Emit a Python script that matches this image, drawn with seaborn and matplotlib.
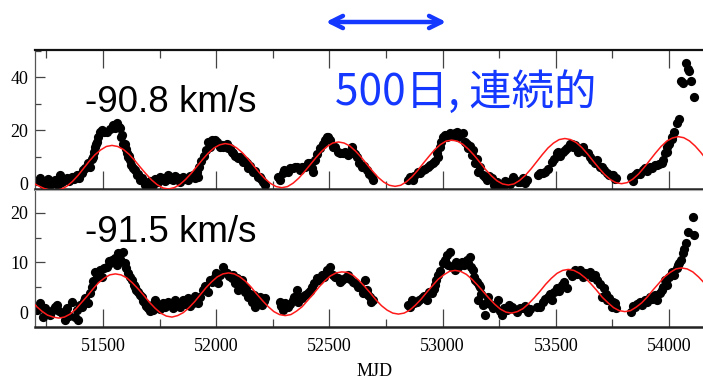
import matplotlib
matplotlib.use("Agg")
import matplotlib.pyplot as plt
import seaborn as sns
import numpy as np
from matplotlib.ticker import MultipleLocator

# ---- data ----
top_mjd = [51205, 51222, 51235, 51244, 51256, 51266, 51278, 51288, 51300, 51310,
           51319, 51330, 51341, 51352, 51363, 51374, 51385, 51396, 51407, 51414,
           51421, 51434, 51443, 51450, 51456, 51462, 51465, 51470, 51474, 51480,
           51487, 51495, 51505, 51518, 51530, 51544, 51553, 51562, 51571, 51575,
           51580, 51584, 51590, 51597, 51602, 51606, 51610, 51615, 51619, 51625,
           51632, 51641, 51650, 51655, 51663, 51672, 51685, 51694, 51699, 51710,
           51721, 51732, 51743, 51754, 51765, 51776, 51787, 51798, 51809, 51820,
           51831, 51842, 51853, 51864, 51875, 51886, 51897, 51906, 51915, 51919,
           51924, 51935, 51945, 51955, 51963, 51972, 51980, 51994, 52003, 52008,
           52016, 52025, 52030, 52047, 52052, 52060, 52068, 52074, 52085, 52096,
           52105, 52118, 52127, 52136, 52140, 52150, 52162, 52172, 52184, 52193,
           52200, 52206, 52215, 52272, 52281, 52294, 52300, 52316, 52325, 52338,
           52350, 52356, 52369, 52378, 52391, 52404, 52413, 52422, 52427, 52436,
           52446, 52458, 52470, 52480, 52489, 52493, 52502, 52515, 52524, 52537,
           52546, 52559, 52570, 52581, 52590, 52599, 52603, 52612, 52621, 52632,
           52643, 52654, 52665, 52676, 52687, 52691, 52846, 52855, 52868, 52875,
           52890, 52899, 52912, 52922, 52934, 52945, 52956, 52966, 52974, 52980,
           52987, 52995, 53001, 53009, 53020, 53031, 53042, 53053, 53062, 53070,
           53076, 53089, 53098, 53107, 53111, 53120, 53129, 53135, 53142, 53150,
           53155, 53164, 53177, 53186, 53195, 53205, 53217, 53228, 53239, 53252,
           53265, 53275, 53287, 53298, 53309, 53320, 53331, 53340, 53353, 53362,
           53371, 53420, 53429, 53442, 53451, 53465, 53482, 53490, 53504, 53508,
           53520, 53530, 53539, 53550, 53561, 53570, 53575, 53585, 53597, 53605,
           53618, 53630, 53640, 53649, 53662, 53672, 53680, 53693, 53702, 53712,
           53724, 53735, 53746, 53751, 53760, 53768, 53834, 53840, 53848, 53857,
           53870, 53883, 53892, 53902, 53914, 53925, 53936, 53945, 53956, 53967,
           53975, 53980, 53989, 53993, 54002, 54011, 54015, 54020, 54037, 54046,
           54055, 54060, 54077, 54082, 54090, 54099, 54112]
top_flux = [0.8, 2.0, -0.2, 0.5, 1.5, -0.6, 0.3, 1.2, -0.5, 3.1,
            0.5, 1.8, 2.0, 0.8, 2.4, 1.5, 3.1, 2.2, 3.9, 5.0,
            5.7, 7.5, 6.1, 9.0, 9.9, 12.0, 13.6, 15.0, 15.5, 17.5,
            19.2, 20.0, 19.5, 19.2, 20.3, 21.8, 20.7, 22.6, 21.1, 20.7,
            17.4, 18.1, 15.0, 15.0, 13.0, 11.3, 9.9, 10.5, 8.7, 7.0,
            5.7, 5.0, 3.1, 3.5, 1.2, 2.0, -0.6, -1.3, -2.0, 1.0,
            -0.6, 1.5, 0.5, 2.5, 2.0, 0.8, 3.1, 1.8, 1.2, 2.8,
            2.0, 0.6, 2.4, 1.5, 1.2, 2.8, 3.1, 2.0, 4.2, 2.4,
            6.2, 8.5, 10.5, 12.5, 15.5, 13.6, 16.5, 16.2, 15.5, 15.0,
            13.6, 14.5, 13.6, 15.0, 13.2, 13.2, 12.0, 11.3, 10.5, 9.5,
            9.9, 8.0, 8.5, 7.6, 5.7, 6.5, 4.2, 4.5, 2.4, 2.4,
            1.5, 0.5, -0.6, 2.4, 1.2, 3.9, 5.0, 4.2, 5.7, 5.7,
            6.0, 6.1, 5.0, 6.1, 6.1, 7.6, 7.6, 5.7, 4.2, 8.7,
            11.0, 13.2, 15.0, 16.2, 17.4, 17.4, 16.2, 13.6, 13.6, 11.7,
            11.3, 11.3, 12.0, 10.6, 11.5, 13.6, 12.0, 11.0, 9.9, 7.5,
            6.1, 6.5, 5.0, 3.5, 2.4, 1.2, 1.2, 2.4, 1.2, 2.8,
            4.2, 3.9, 5.0, 5.5, 6.1, 6.8, 7.6, 8.5, 11.3, 9.9,
            13.6, 15.5, 17.4, 18.1, 17.5, 18.8, 17.8, 18.8, 19.2, 17.5,
            18.1, 18.8, 15.5, 15.0, 13.2, 14.0, 10.6, 12.5, 7.6, 9.0,
            4.2, 6.1, 3.1, 2.5, 1.2, 2.8, 2.0, -0.5, 0.5, -1.3,
            -1.3, 1.0, 0.5, -0.3, 2.4, 1.2, 0.5, 0.5, 2.0, 0.2,
            1.2, 3.1, 3.9, 3.9, 4.2, 5.5, 8.0, 9.0, 11.3, 11.7,
            10.5, 11.7, 12.5, 13.2, 15.0, 15.0, 13.6, 14.5, 11.7, 12.5,
            13.6, 12.0, 11.3, 9.9, 8.7, 7.5, 8.7, 6.1, 6.1, 5.0,
            3.9, 3.0, 3.1, 3.1, 1.5, 2.0, 2.4, 1.0, 3.1, 3.9,
            3.5, 5.0, 5.7, 4.8, 6.1, 5.8, 7.0, 6.9, 7.2, 7.6,
            8.7, 11.3, 11.7, 13.6, 15.0, 16.9, 17.4, 19.2, 22.6, 24.4,
            38.7, 37.9, 45.4, 43.2, 42.4, 38.7, 32.4]

bot_mjd = [51210, 51222, 51235, 51246, 51257, 51268, 51279, 51290, 51297, 51308,
           51319, 51332, 51341, 51352, 51363, 51377, 51385, 51390, 51398, 51407,
           51415, 51421, 51434, 51443, 51452, 51458, 51465, 51472, 51478, 51487,
           51496, 51505, 51518, 51525, 51531, 51542, 51553, 51560, 51566, 51575,
           51588, 51597, 51603, 51610, 51620, 51628, 51635, 51641, 51648, 51655,
           51663, 51672, 51678, 51685, 51692, 51699, 51708, 51716, 51723, 51730,
           51737, 51743, 51754, 51765, 51776, 51787, 51798, 51809, 51820, 51831,
           51842, 51853, 51864, 51875, 51886, 51897, 51906, 51915, 51920, 51928,
           51940, 51950, 51963, 51972, 51980, 51994, 52001, 52008, 52018, 52030,
           52038, 52047, 52058, 52069, 52076, 52083, 52090, 52096, 52105, 52114,
           52120, 52127, 52134, 52140, 52150, 52158, 52165, 52171, 52178, 52184,
           52194, 52202, 52210, 52215, 52281, 52288, 52294, 52305, 52316, 52326,
           52338, 52345, 52356, 52362, 52369, 52380, 52392, 52404, 52413, 52422,
           52433, 52444, 52455, 52466, 52478, 52489, 52496, 52502, 52515, 52524,
           52536, 52545, 52555, 52568, 52581, 52592, 52603, 52614, 52625, 52634,
           52647, 52656, 52665, 52672, 52678, 52685, 52691, 52846, 52855, 52864,
           52875, 52886, 52897, 52908, 52918, 52930, 52940, 52952, 52960, 52965,
           52972, 52978, 52990, 53001, 53010, 53018, 53024, 53031, 53040, 53053,
           53060, 53067, 53075, 53084, 53095, 53107, 53114, 53120, 53127, 53133,
           53140, 53145, 53151, 53155, 53160, 53164, 53170, 53177, 53186, 53192,
           53199, 53210, 53221, 53232, 53243, 53252, 53261, 53272, 53283, 53294,
           53305, 53316, 53327, 53340, 53353, 53364, 53375, 53385, 53418, 53429,
           53442, 53452, 53464, 53474, 53482, 53494, 53504, 53515, 53526, 53537,
           53548, 53561, 53572, 53583, 53594, 53605, 53618, 53630, 53649, 53660,
           53671, 53684, 53695, 53706, 53715, 53722, 53728, 53737, 53746, 53753,
           53760, 53768, 53834, 53841, 53848, 53859, 53870, 53881, 53892, 53903,
           53914, 53925, 53936, 53949, 53958, 53967, 53975, 53980, 53987, 53993,
           54002, 54011, 54020, 54033, 54040, 54046, 54053, 54060, 54068, 54077,
           54082, 54104, 54112]
bot_flux = [0.5, 1.8, -1.0, 0.8, 0.0, -0.5, 0.4, 1.0, 1.4, 0.3,
            -0.2, -1.6, 0.8, -0.8, 2.0, -1.0, 0.4, -1.6, 1.5, 1.0,
            2.2, 2.8, 1.8, 3.8, 5.1, 6.2, 8.1, 7.0, 7.9, 8.5,
            7.1, 8.8, 9.1, 10.2, 9.9, 10.5, 10.9, 9.5, 11.9, 10.8,
            12.1, 9.9, 8.8, 7.9, 7.0, 6.5, 5.5, 5.1, 4.5, 4.0,
            3.5, 3.0, 2.2, 1.8, 1.2, 0.8, 0.2, 1.4, 0.5, 2.4,
            1.2, 1.0, 0.6, 1.8, 1.0, 2.0, 1.4, 0.8, 2.4, 1.8,
            1.0, 2.4, 1.6, 2.8, 1.2, 1.8, 3.2, 2.8, 1.8, 3.0,
            4.5, 5.2, 4.0, 6.5, 6.0, 7.1, 7.8, 5.9, 7.5, 9.1,
            8.0, 7.9, 7.2, 6.9, 7.5, 5.9, 6.8, 4.4, 5.0, 6.5,
            5.2, 4.0, 4.8, 3.0, 3.6, 2.0, 3.4, 1.0, 2.0, 2.4,
            3.0, 1.4, 2.2, 2.8, 2.0, 1.2, 0.4, 1.8, 1.0, 1.6,
            2.4, 3.0, 4.4, 2.0, 3.0, 2.8, 3.4, 3.8, 4.2, 5.1,
            5.8, 6.9, 6.5, 7.5, 7.0, 8.5, 7.8, 9.1, 7.5, 7.1,
            6.8, 6.0, 6.5, 6.8, 7.5, 6.6, 6.1, 5.8, 5.1, 5.1,
            3.8, 6.5, 4.4, 3.5, 3.0, 2.0, 2.4, 1.4, 1.0, 2.4,
            1.8, 2.0, 2.5, 2.8, 3.2, 2.4, 4.0, 3.8, 4.6, 5.5,
            6.5, 7.5, 8.2, 9.9, 10.5, 11.5, 9.5, 12.1, 9.0, 8.5,
            10.0, 9.1, 9.5, 10.1, 9.4, 10.5, 9.8, 11.1, 9.0, 8.5,
            7.0, 6.5, 6.1, 2.4, 5.5, 5.1, 3.6, 1.4, -0.6, 1.8,
            3.0, 1.6, 0.8, 1.2, 2.4, 0.2, -0.6, 0.8, 0.4, 1.4,
            1.0, 0.6, 0.0, 0.8, 0.8, 1.2, 0.0, 0.6, 1.0, 1.0,
            2.0, 2.6, 3.0, 3.6, 2.4, 4.0, 4.8, 4.2, 5.5, 6.0,
            4.8, 7.9, 7.2, 8.5, 7.6, 8.5, 7.1, 7.8, 8.1, 7.0,
            7.5, 6.5, 5.6, 3.0, 4.8, 3.6, 2.4, 2.8, 1.0, 2.0,
            1.8, 0.8, 0.0, 1.2, 1.0, 1.6, 2.0, 1.4, 2.4, 2.0,
            3.0, 2.6, 3.4, 2.4, 3.8, 4.4, 5.0, 6.5, 6.0, 5.5,
            7.0, 8.1, 7.5, 8.9, 9.5, 9.9, 10.5, 11.9, 12.8, 13.9,
            16.2, 19.2, 15.6]

# red model curves, sampled every 25 days
top_fit_mjd = [51190, 51215, 51240, 51265, 51290, 51315, 51340, 51365, 51390, 51415,
               51440, 51465, 51490, 51515, 51540, 51565, 51590, 51615, 51640, 51665,
               51690, 51715, 51740, 51765, 51790, 51815, 51840, 51865, 51890, 51915,
               51940, 51965, 51990, 52015, 52040, 52065, 52090, 52115, 52140, 52165,
               52190, 52215, 52240, 52265, 52290, 52315, 52340, 52365, 52390, 52415,
               52440, 52465, 52490, 52515, 52540, 52565, 52590, 52615, 52640, 52665,
               52690, 52715, 52740, 52765, 52790, 52815, 52840, 52865, 52890, 52915,
               52940, 52965, 52990, 53015, 53040, 53065, 53090, 53115, 53140, 53165,
               53190, 53215, 53240, 53265, 53290, 53315, 53340, 53365, 53390, 53415,
               53440, 53465, 53490, 53515, 53540, 53565, 53590, 53615, 53640, 53665,
               53690, 53715, 53740, 53765, 53790, 53815, 53840, 53865, 53890, 53915,
               53940, 53965, 53990, 54015, 54040, 54065, 54090, 54115, 54140, 54165]
top_fit = [0.2, -0.9, -1.9, -2.5, -2.6, -2.2, -1.1, 0.7, 3.0, 5.7,
           8.4, 10.8, 12.6, 13.9, 14.3, 13.9, 12.8, 11.0, 8.7, 6.1,
           3.6, 1.3, -0.5, -1.7, -2.1, -1.6, -0.4, 1.5, 3.8, 6.4,
           9.0, 11.4, 13.3, 14.5, 15.0, 14.6, 13.4, 11.6, 9.3, 6.7,
           4.1, 1.8, 0.0, -1.2, -1.6, -1.2, 0.1, 2.0, 4.4, 7.0,
           9.6, 12.0, 13.9, 15.2, 15.6, 15.2, 14.1, 12.2, 9.9, 7.3,
           4.7, 2.3, 0.5, -0.7, -1.1, -0.7, 0.6, 2.5, 4.9, 7.6,
           10.2, 12.7, 14.6, 15.9, 16.3, 15.9, 14.7, 12.8, 10.5, 7.9,
           5.2, 2.9, 1.0, -0.2, -0.6, -0.2, 1.1, 3.0, 5.4, 8.1,
           10.8, 13.3, 15.2, 16.5, 16.9, 16.5, 15.4, 13.5, 11.1, 8.4,
           5.8, 3.4, 1.5, 0.3, -0.1, 0.3, 1.6, 3.5, 6.0, 8.7,
           11.4, 13.9, 15.9, 17.1, 17.6, 17.2, 16.0, 14.1, 11.7, 9.0]

bot_fit_mjd = [51180, 51205, 51230, 51255, 51280, 51305, 51330, 51355, 51380, 51405,
               51430, 51455, 51480, 51505, 51530, 51555, 51580, 51605, 51630, 51655,
               51680, 51705, 51730, 51755, 51780, 51805, 51830, 51855, 51880, 51905,
               51930, 51955, 51980, 52005, 52030, 52055, 52080, 52105, 52130, 52155,
               52180, 52205, 52230, 52255, 52280, 52305, 52330, 52355, 52380, 52405,
               52430, 52455, 52480, 52505, 52530, 52555, 52580, 52605, 52630, 52655,
               52680, 52705, 52730, 52755, 52780, 52805, 52830, 52855, 52880, 52905,
               52930, 52955, 52980, 53005, 53030, 53055, 53080, 53105, 53130, 53155,
               53180, 53205, 53230, 53255, 53280, 53305, 53330, 53355, 53380, 53405,
               53430, 53455, 53480, 53505, 53530, 53555, 53580, 53605, 53630, 53655,
               53680, 53705, 53730, 53755, 53780, 53805, 53830, 53855, 53880, 53905,
               53930, 53955, 53980, 54005, 54030, 54055, 54080, 54105, 54130, 54155, 54180]
bot_fit = [2.6, 1.2, 0.2, -0.6, -1.0, -1.2, -1.0, -0.4, 0.6, 1.9,
           3.2, 4.6, 5.9, 6.8, 7.5, 7.7, 7.5, 6.9, 5.9, 4.7,
           3.4, 2.0, 0.8, -0.2, -0.8, -1.0, -0.7, -0.1, 0.9, 2.1,
           3.5, 4.9, 6.1, 7.1, 7.7, 7.9, 7.7, 7.1, 6.2, 5.0,
           3.6, 2.3, 1.1, 0.1, -0.5, -0.7, -0.5, 0.2, 1.1, 2.4,
           3.7, 5.1, 6.3, 7.3, 7.9, 8.1, 8.0, 7.4, 6.4, 5.2,
           3.9, 2.5, 1.3, 0.4, -0.2, -0.4, -0.2, 0.4, 1.4, 2.6,
           4.0, 5.3, 6.6, 7.5, 8.2, 8.4, 8.2, 7.6, 6.6, 5.4,
           4.1, 2.8, 1.6, 0.6, 0.0, -0.2, 0.1, 0.7, 1.7, 2.9,
           4.2, 5.6, 6.8, 7.8, 8.4, 8.6, 8.4, 7.8, 6.9, 5.7,
           4.4, 3.0, 1.9, 0.9, 0.3, 0.1, 0.3, 1.0, 1.9, 3.1,
           4.5, 5.8, 7.1, 8.0, 8.7, 8.9, 8.7, 8.1, 7.1, 5.9, 4.6]

velocity_labels = ['-90.8 km/s', '-91.5 km/s']
note_text = '500日, 連続的'

sns.set_style('ticks')
plt.rcParams['font.family'] = ['Liberation Serif', 'DejaVu Serif']
plt.rcParams['text.color'] = 'black'
plt.rcParams['xtick.labelcolor'] = 'black'
plt.rcParams['ytick.labelcolor'] = 'black'

fig = plt.figure(figsize=(7.03, 3.81), dpi=100)
ax_top = fig.add_axes([35 / 703, 1 - 189 / 381, 1 - 35 / 703, 139 / 381])
ax_bot = fig.add_axes([35 / 703, 1 - 327 / 381, 1 - 35 / 703, 137 / 381])

panels = [
    (ax_top, top_mjd, top_flux, top_fit_mjd, top_fit, (-2.1, 50.2), 20, 10),
    (ax_bot, bot_mjd, bot_flux, bot_fit_mjd, bot_fit, (-3.0, 24.6), 10, 5),
]

for ax, mjd, flux, fmjd, fval, ylim, ymaj, ymin in panels:
    sns.scatterplot(x=mjd, y=flux, ax=ax, color='black', s=44,
                    linewidth=0, zorder=2)
    sns.lineplot(x=fmjd, y=fval, ax=ax, color='#ff1a1a', linewidth=1.1,
                 sort=False, zorder=3)
    ax.set_xlim(51200, 54150)
    ax.set_ylim(*ylim)
    ax.xaxis.set_major_locator(MultipleLocator(500))
    ax.xaxis.set_minor_locator(MultipleLocator(250))
    ax.yaxis.set_major_locator(MultipleLocator(ymaj))
    ax.yaxis.set_minor_locator(MultipleLocator(ymin))
    ax.tick_params(axis='x', which='major', direction='in', length=13,
                   width=0.9, color='#444444', labelsize=13, pad=8)
    ax.tick_params(axis='x', which='minor', direction='in', length=6,
                   width=0.9, color='#444444')
    ax.tick_params(axis='y', which='major', direction='in', length=7,
                   width=0.9, color='#444444', labelsize=13, pad=5)
    ax.tick_params(axis='y', which='minor', direction='in', length=4,
                   width=0.9, color='#444444')
    ax.spines['right'].set_visible(False)
    ax.spines['left'].set_color('#555555')
    ax.spines['left'].set_linewidth(0.9)
    ax.spines['bottom'].set_color('#222222')
    ax.spines['bottom'].set_linewidth(1.8)
    ax.set_xlabel('')
    ax.set_ylabel('')
    ax.patch.set_alpha(0)

ax_top.spines['top'].set_color('#111111')
ax_top.spines['top'].set_linewidth(1.6)
ax_top.tick_params(axis='x', which='both', top=True, labelbottom=False)
ax_bot.spines['top'].set_color('#aaaaaa')
ax_bot.spines['top'].set_linewidth(0.8)

fig.text(375 / 703, 1 - 363 / 381, 'MJD', ha='center', va='top', fontsize=13)

# overlay annotations
sans = ['Liberation Sans', 'DejaVu Sans']
fig.text(85 / 703, 1 - 112 / 381, velocity_labels[0], fontsize=26.5,
         family=sans, va='baseline', ha='left')
fig.text(85 / 703, 1 - 242 / 381, velocity_labels[1], fontsize=26.5,
         family=sans, va='baseline', ha='left')
fig.text(335 / 703, 1 - 105 / 381, note_text, fontsize=30.5, color='#1438ff',
         family=['Noto Sans CJK JP', 'DejaVu Sans'], va='baseline', ha='left')
fig.add_artist(matplotlib.patches.FancyArrowPatch(
    (323 / 703, 1 - 22 / 381), (449 / 703, 1 - 22 / 381),
    transform=fig.transFigure, arrowstyle='<->', mutation_scale=22,
    color='#1438ff', linewidth=3.2))

fig.savefig('out.png', dpi=100)
